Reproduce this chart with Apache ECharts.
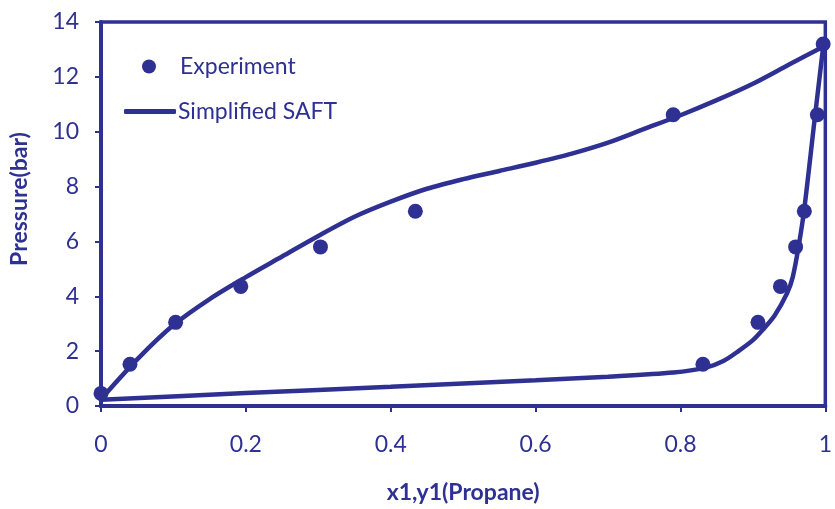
<!DOCTYPE html>
<html>
<head>
<meta charset="utf-8">
<script src="https://cdn.jsdelivr.net/npm/echarts@6/dist/echarts.min.js"></script>
<style>html,body{margin:0;padding:0;background:#fff}#c{width:835px;height:509px}</style>
</head>
<body>
<div id="c"></div>
<script>
// Experimental points
const expX = [0, 0.04, 0.103, 0.193, 0.303, 0.434, 0.79, 0.831, 0.907, 0.938, 0.959, 0.971, 0.989, 0.997];
const expP = [0.46, 1.52, 3.05, 4.36, 5.8, 7.1, 10.62, 1.52, 3.05, 4.36, 5.8, 7.1, 10.62, 13.2];

// Simplified SAFT - upper branch
const upX = [0, 0.05, 0.1, 0.15, 0.2, 0.25, 0.3, 0.35, 0.4, 0.45, 0.5, 0.55, 0.6, 0.65, 0.7, 0.75, 0.8, 0.85, 0.9, 0.95, 0.997];
const upP = [0.25, 1.7, 2.95, 3.9, 4.7, 5.45, 6.2, 6.9, 7.45, 7.92, 8.27, 8.57, 8.87, 9.2, 9.6, 10.1, 10.6, 11.15, 11.75, 12.45, 13.1];

// Simplified SAFT - lower branch
const loX = [0, 0.2, 0.4, 0.6, 0.7, 0.79, 0.835, 0.86, 0.88, 0.9, 0.913, 0.93, 0.947, 0.955, 0.963, 0.971, 0.985, 0.997];
const loP = [0.23, 0.47, 0.7, 0.94, 1.07, 1.22, 1.4, 1.65, 2.0, 2.4, 2.76, 3.3, 4.1, 4.7, 5.8, 7.2, 10.4, 13.1];

const xTicks = [0, 0.2, 0.4, 0.6, 0.8, 1];
const yTicks = [0, 2, 4, 6, 8, 10, 12, 14];

const C = '#2E3192';
const FONT = 'Lato';
const FS = 23;
const zip = (a, b) => a.map((v, i) => [v, b[i]]);

const chart = echarts.init(document.getElementById('c'));
chart.setOption({
  animation: false,
  backgroundColor: '#fff',
  grid: { left: 100, right: 2, top: 22, bottom: 101, show: true, borderColor: C, borderWidth: 3.5, backgroundColor: 'transparent' },
  legend: [
    { data: ['Experiment'], left: 142, top: 55, padding: 0, itemWidth: 14, itemHeight: 14,
      textStyle: { color: C, fontFamily: FONT, fontSize: FS, padding: [0, 0, 0, 19] } },
    { data: [{ name: 'Simplified SAFT', icon: 'roundRect' }], left: 124, top: 100, padding: 0, itemWidth: 52, itemHeight: 5, itemGap: 0,
      textStyle: { color: C, fontFamily: FONT, fontSize: FS, padding: [0, 0, 0, -3] } }
  ],
  xAxis: {
    type: 'value', min: 0, max: 1, interval: 0.2,
    name: 'x1,y1(Propane)', nameLocation: 'middle', nameGap: 75,
    nameTextStyle: { color: C, fontFamily: FONT, fontSize: FS, fontWeight: 'bold' },
    axisLine: { show: true, lineStyle: { color: C, width: 4 } },
    axisTick: { show: true, length: 6, lineStyle: { color: C, width: 2 } },
    axisLabel: { color: C, fontFamily: FONT, fontSize: FS, margin: 27,
      formatter: v => xTicks.includes(+v.toFixed(1)) ? String(+v.toFixed(1)) : '' },
    splitLine: { show: false }
  },
  yAxis: {
    type: 'value', min: 0, max: 14, interval: 2,
    name: 'Pressure(bar)', nameLocation: 'middle', nameGap: 70, nameRotate: 90,
    nameTextStyle: { color: C, fontFamily: FONT, fontSize: FS, fontWeight: 'bold', padding: [0, 0, 0, 30] },
    axisLine: { show: true, lineStyle: { color: C, width: 4 } },
    axisTick: { show: true, length: 6, lineStyle: { color: C, width: 2 } },
    axisLabel: { color: C, fontFamily: FONT, fontSize: FS, margin: 22,
      formatter: v => yTicks.includes(v) ? String(v) : '' },
    splitLine: { show: false }
  },
  series: [
    { name: 'Simplified SAFT', type: 'line', data: zip(upX, upP), smooth: 0.3, showSymbol: false, symbol: 'none',
      lineStyle: { color: C, width: 4.5 }, itemStyle: { color: C }, z: 3 },
    { name: 'Simplified SAFT', type: 'line', data: zip(loX, loP), smooth: 0.3, showSymbol: false, symbol: 'none',
      lineStyle: { color: C, width: 4.5 }, itemStyle: { color: C }, z: 3 },
    { name: 'Experiment', type: 'scatter', data: zip(expX, expP), symbol: 'circle', symbolSize: 15,
      itemStyle: { color: C, opacity: 1 }, z: 4 }
  ]
});
</script>
</body>
</html>
